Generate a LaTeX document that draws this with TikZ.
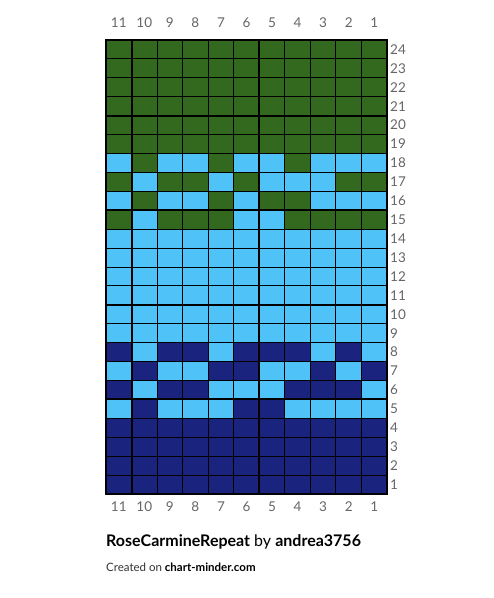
\documentclass[tikz,border=0pt]{standalone}
\usepackage{fontspec}
\setmainfont{Lato}
\definecolor{cG}{HTML}{33691E}
\definecolor{cB}{HTML}{4FC3F7}
\definecolor{cN}{HTML}{1A237E}
\definecolor{lbl}{HTML}{666666}
\begin{document}
\begin{tikzpicture}[x=1pt,y=-1pt,
  thinline/.style={line width=1pt,black},
  thickline/.style={line width=2pt,black},
  numlbl/.style={font=\fontsize{13.5}{14}\selectfont,text=lbl,inner sep=0pt}]
\useasboundingbox (0,0) rectangle (494,598);
\fill[white] (0,0) rectangle (494,598);
\def\xo{106}\def\yo{40}\def\cw{25.545}\def\ch{18.917}
\foreach \row [count=\r from 0] in {
 {G,G,G,G,G,G,G,G,G,G,G},
 {G,G,G,G,G,G,G,G,G,G,G},
 {G,G,G,G,G,G,G,G,G,G,G},
 {G,G,G,G,G,G,G,G,G,G,G},
 {G,G,G,G,G,G,G,G,G,G,G},
 {G,G,G,G,G,G,G,G,G,G,G},
 {B,G,B,B,G,B,B,G,B,B,B},
 {G,B,G,G,B,G,B,B,B,G,G},
 {B,G,B,B,G,B,G,G,B,B,B},
 {G,B,G,G,G,B,B,G,G,G,G},
 {B,B,B,B,B,B,B,B,B,B,B},
 {B,B,B,B,B,B,B,B,B,B,B},
 {B,B,B,B,B,B,B,B,B,B,B},
 {B,B,B,B,B,B,B,B,B,B,B},
 {B,B,B,B,B,B,B,B,B,B,B},
 {B,B,B,B,B,B,B,B,B,B,B},
 {N,B,N,N,B,N,N,N,B,N,B},
 {B,N,B,B,N,N,B,B,N,B,N},
 {N,B,N,N,B,B,B,N,N,N,B},
 {B,N,B,B,B,N,N,B,B,B,B},
 {N,N,N,N,N,N,N,N,N,N,N},
 {N,N,N,N,N,N,N,N,N,N,N},
 {N,N,N,N,N,N,N,N,N,N,N},
 {N,N,N,N,N,N,N,N,N,N,N}} {
  \foreach \c [count=\i from 0] in \row {
    \fill[c\c] ({\xo+\i*\cw},{\yo+\r*\ch}) rectangle ++(\cw,\ch);
  }
}
% thin grid
\foreach \i in {1,...,10}
  \draw[thinline] ({\xo+\i*\cw},\yo) -- ++(0,{24*\ch});
\foreach \j in {1,...,23}
  \draw[thinline] (\xo,{\yo+\j*\ch}) -- ++({11*\cw},0);
% thick grid
\foreach \i in {1,6}
  \draw[thickline] ({\xo+\i*\cw},\yo) -- ++(0,{24*\ch});
\foreach \j in {4,9,14,19}
  \draw[thickline] (\xo,{\yo+\j*\ch}) -- ++({11*\cw},0);
\draw[line width=2.5pt] (\xo,\yo) rectangle ({\xo+11*\cw},{\yo+24*\ch});
% labels
\foreach \i in {0,...,10} {
  \pgfmathtruncatemacro{\n}{11-\i}
  \node[numlbl] (top\n) at ({\xo+(\i+0.5)*\cw},23) {\n};
  \node[numlbl] (bot\n) at ({\xo+(\i+0.5)*\cw},507) {\n};
}
\foreach \r in {0,...,23} {
  \pgfmathtruncatemacro{\n}{24-\r}
  \node[numlbl,anchor=west] (row\n) at (390,{\yo+(\r+0.5)*\ch}) {\n};
}
\node[anchor=west,inner sep=0pt,font=\fontsize{16}{18}\selectfont] (title) at (106,542)
  {\textbf{RoseCarmineRepeat} by \textbf{andrea3756}};
\node[anchor=west,inner sep=0pt,font=\fontsize{11.5}{14}\selectfont] (credit) at (106,567)
  {\textcolor{black!80}{Created on} \textbf{chart-minder.com}};
\end{tikzpicture}
\end{document}
